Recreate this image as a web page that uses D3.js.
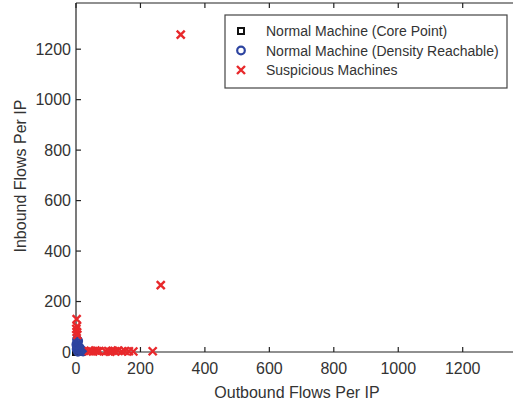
<!DOCTYPE html>
<html>
<head>
<meta charset="utf-8">
<script src="https://cdn.jsdelivr.net/npm/d3@7"></script>
<style>
  body { margin: 0; background: #fff; }
  svg { display: block; }
  text { font-family: "Liberation Sans", Arial, sans-serif; fill: #333; }
</style>
</head>
<body>
<div id="chart"></div>
<script>
  // axis ticks
  var xTicks = [0, 200, 400, 600, 800, 1000, 1200];
  var yTicks = [0, 200, 400, 600, 800, 1000, 1200];

  // normal machines, core points (outbound, inbound)
  var corePoints = [[0, 0], [2, 3], [4, 6], [1, 9], [3, 1]];

  // normal machines, density reachable
  var reachPoints = [
    [2, 12], [5, 25], [4, 36], [7, 44], [3, 50], [11, 18],
    [17, 6], [22, 2], [6, 1], [10, 8], [14, 12], [1, 30]
  ];

  // suspicious machines
  var suspPoints = [
    [325, 1258], [263, 265], [2, 130], [3, 102], [1, 92], [2, 80], [4, 68],
    [40, 3], [46, 5], [53, 2], [60, 6], [66, 3], [72, 4], [92, 2], [100, 4],
    [106, 1], [114, 5], [121, 3], [130, 6], [142, 2], [152, 4], [164, 3],
    [178, 2], [238, 3]
  ];

  var legendItems = [
    { label: "Normal Machine (Core Point)", type: "square" },
    { label: "Normal Machine (Density Reachable)", type: "circle" },
    { label: "Suspicious Machines", type: "cross" }
  ];

  (function () {
    var width = 513, height = 405;
    var padLeft = 76, axisBottom = 352, axisTop = 3;
    var red = "#e8282b", blue = "#2d44a0", ink = "#222";

    var svg = d3.select("#chart").append("svg")
      .attr("width", width)
      .attr("height", height);

    var x = d3.scaleLinear().domain([0, 1400]).range([padLeft, padLeft + 1400 * 0.32225]);
    var y = d3.scaleLinear().domain([0, 1383]).range([axisBottom, axisTop]);

    // axes lines (box is cut on the right)
    var axG = svg.append("g").attr("stroke", ink).attr("stroke-width", 1.2);
    axG.append("line").attr("x1", padLeft).attr("x2", width).attr("y1", axisBottom).attr("y2", axisBottom);
    axG.append("line").attr("x1", padLeft).attr("x2", width).attr("y1", axisTop).attr("y2", axisTop);
    axG.append("line").attr("x1", padLeft).attr("x2", padLeft).attr("y1", axisTop).attr("y2", axisBottom);

    // ticks, pointing inward
    xTicks.forEach(function (t) {
      axG.append("line").attr("x1", x(t)).attr("x2", x(t)).attr("y1", axisBottom).attr("y2", axisBottom - 5);
      axG.append("line").attr("x1", x(t)).attr("x2", x(t)).attr("y1", axisTop).attr("y2", axisTop + 5);
    });
    yTicks.forEach(function (t) {
      axG.append("line").attr("x1", padLeft).attr("x2", padLeft + 5).attr("y1", y(t)).attr("y2", y(t));
    });

    // tick labels
    var labG = svg.append("g").attr("font-size", 16);
    xTicks.forEach(function (t) {
      labG.append("text").attr("x", x(t)).attr("y", axisBottom + 22)
        .attr("text-anchor", "middle").text(t);
    });
    yTicks.forEach(function (t) {
      labG.append("text").attr("x", padLeft - 5).attr("y", y(t)).attr("dy", "0.36em")
        .attr("text-anchor", "end").text(t);
    });

    // markers
    var markG = svg.append("g");
    markG.selectAll(".core").data(corePoints).enter().append("rect")
      .attr("x", function (d) { return x(d[0]) - 3; })
      .attr("y", function (d) { return y(d[1]) - 3; })
      .attr("width", 6).attr("height", 6)
      .attr("fill", "none").attr("stroke", "#111").attr("stroke-width", 2);

    markG.selectAll(".reach").data(reachPoints).enter().append("circle")
      .attr("cx", function (d) { return x(d[0]); })
      .attr("cy", function (d) { return y(d[1]); })
      .attr("r", 3.8)
      .attr("fill", "none").attr("stroke", blue).attr("stroke-width", 2.2);

    function crossPath(cx, cy, s) {
      return "M" + (cx - s) + "," + (cy - s) + "L" + (cx + s) + "," + (cy + s) +
        "M" + (cx - s) + "," + (cy + s) + "L" + (cx + s) + "," + (cy - s);
    }
    markG.selectAll(".susp").data(suspPoints).enter().append("path")
      .attr("d", function (d) { return crossPath(x(d[0]), y(d[1]), 4); })
      .attr("stroke", red).attr("stroke-width", 2.4).attr("fill", "none");

    // axis titles
    svg.append("text").attr("x", 297).attr("y", 398)
      .attr("font-size", 16).attr("text-anchor", "middle")
      .text("Outbound Flows Per IP");
    svg.append("text")
      .attr("transform", "translate(26,176) rotate(-90)")
      .attr("font-size", 16).attr("text-anchor", "middle")
      .text("Inbound Flows Per IP");

    // legend
    var legendG = svg.append("g").attr("transform", "translate(225,15)");
    legendG.append("rect").attr("x", 0).attr("y", 0).attr("width", 282).attr("height", 73)
      .attr("fill", "#fff").attr("stroke", "#444").attr("stroke-width", 1.2);
    legendItems.forEach(function (item, i) {
      var cy = 16 + i * 19.5;
      var mx = 16;
      if (item.type === "square") {
        legendG.append("rect").attr("x", mx - 3).attr("y", cy - 3).attr("width", 6).attr("height", 6)
          .attr("fill", "none").attr("stroke", "#111").attr("stroke-width", 2);
      } else if (item.type === "circle") {
        legendG.append("circle").attr("cx", mx).attr("cy", cy).attr("r", 3.8)
          .attr("fill", "none").attr("stroke", blue).attr("stroke-width", 2.2);
      } else {
        legendG.append("path").attr("d", crossPath(mx, cy, 4))
          .attr("stroke", red).attr("stroke-width", 2.4).attr("fill", "none");
      }
      legendG.append("text").attr("x", 41).attr("y", cy).attr("dy", "0.36em")
        .attr("font-size", 14).text(item.label);
    });
  })();
</script>
</body>
</html>
